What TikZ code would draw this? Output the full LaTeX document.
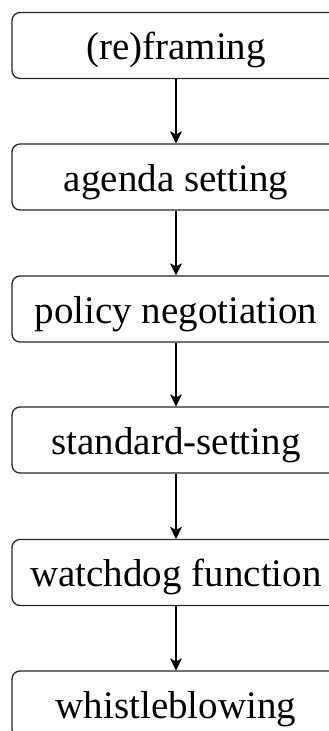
\documentclass[tikz,border=0pt]{standalone}
\usepackage{fontspec}
\setmainfont{Liberation Serif}
\usetikzlibrary{arrows.meta}
\begin{document}
\begin{tikzpicture}[x=1pt,y=1pt,
  stagebox/.style={draw=black!85, line width=1.3pt, rounded corners=8pt,
    minimum width=328pt, minimum height=66pt, inner sep=0pt,
    text height=28pt, text depth=0pt,
    font=\fontsize{39}{47}\selectfont},
  flow/.style={-{Stealth[length=12pt,width=12pt,inset=3pt]}, line width=1.1pt, black}]
\useasboundingbox (0,0) rectangle (329,-731);
\begin{scope}
\clip (0,0) rectangle (329,-731);
\node[stagebox] (n1) at (176,-45.5) {(re)framing};
\node[stagebox] (n2) at (176,-177) {agenda setting};
\node[stagebox] (n3) at (176,-309) {policy negotiation};
\node[stagebox] (n4) at (176,-440) {standard-setting};
\node[stagebox] (n5) at (176,-572.5) {watchdog function};
\node[stagebox] (n6) at (176,-704) {whistleblowing};
\draw[flow] (n1.south) -- (n2.north);
\draw[flow] (n2.south) -- (n3.north);
\draw[flow] (n3.south) -- (n4.north);
\draw[flow] (n4.south) -- (n5.north);
\draw[flow] (n5.south) -- (n6.north);
\end{scope}
\end{tikzpicture}
\end{document}
